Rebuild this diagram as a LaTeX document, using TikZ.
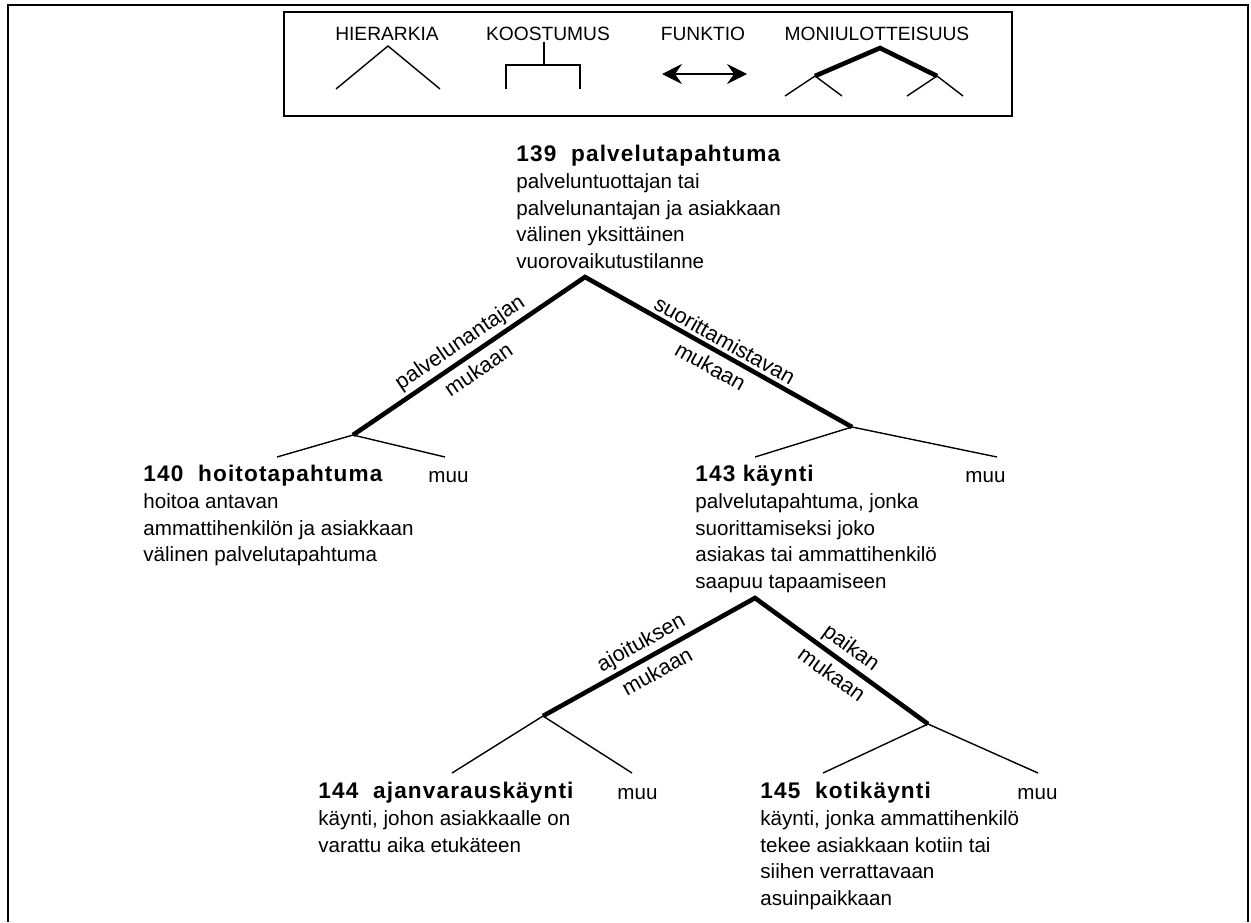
\documentclass[tikz,border=0pt]{standalone}
\usepackage{fontspec}
\setmainfont{Liberation Sans}
\newfontfamily\spacedfont[LetterSpace=5]{Liberation Sans}
\usepackage{tikz}
\usetikzlibrary{arrows.meta}

\tikzset{
  concept/.style={anchor=north west, inner sep=0pt, align=left, font=\fontsize{10.3}{13.35}\selectfont},
  other/.style={anchor=base west, inner sep=0pt, font=\fontsize{10.3}{13.35}\selectfont},
  legendlabel/.style={anchor=base, inner sep=0pt, font=\fontsize{9.6}{12}\selectfont},
  criterion/.style={line width=2.3pt},
  branch/.style={line width=0.7pt},
  edgelabel/.style={sloped, pos=0.5, inner sep=1.5pt, font=\fontsize{10.8}{13}\selectfont},
}
\newcommand{\term}[1]{{\spacedfont\bfseries\fontsize{11.3}{13.35}\selectfont #1}}

\begin{document}
\begin{tikzpicture}[x=0.5pt, y=-0.5pt]
\useasboundingbox (0,0) rectangle (1251,922);
% frame, open at the bottom
\draw[line width=1pt] (8,922) -- (8,5) -- (1248,5) -- (1248,922);

% legend
\draw[line width=0.8pt] (284,12) rectangle (1012,116);
\node[legendlabel] (hier) at (387,40) {HIERARKIA};
\node[legendlabel] (koost) at (548,40) {KOOSTUMUS};
\node[legendlabel] (funk) at (703,40) {FUNKTIO};
\node[legendlabel] (moni) at (877,40) {MONIULOTTEISUUS};
\draw[branch] (336,89) -- (388,46) -- (440,89);
\draw[branch] (544,42) -- (544,65);
\draw[branch] (506,89) -- (506,65) -- (580,65) -- (580,89);
\draw[branch, {Stealth[length=10pt, width=10pt, inset=3.5pt]}-{Stealth[length=10pt, width=10pt, inset=3.5pt]}] (662,74) -- (747,74);
\draw[criterion] (815,76) -- (880,48) -- (937,76);
\draw[branch] (785,96) -- (815,76) -- (842,96);
\draw[branch] (907,96) -- (937,76) -- (963,96);

% concepts
\node[concept] (n139) at (516,145) {\term{139~~palvelutapahtuma}\\palveluntuottajan tai\\palvelunantajan ja asiakkaan\\välinen yksittäinen\\vuorovaikutustilanne};
\node[concept] (n140) at (143,465) {\term{140~~hoitotapahtuma}\\hoitoa antavan\\ammattihenkilön ja asiakkaan\\välinen palvelutapahtuma};
\node[other] (muu140) at (428,482) {muu};
\node[concept] (n143) at (695,465) {\term{143 käynti}\\palvelutapahtuma, jonka\\suorittamiseksi joko\\asiakas tai ammattihenkilö\\saapuu tapaamiseen};
\node[other] (muu143) at (965,482) {muu};
\node[concept] (n144) at (318,782) {\term{144~~ajanvarauskäynti}\\käynti, johon asiakkaalle on\\varattu aika etukäteen};
\node[other] (muu144) at (617,799) {muu};
\node[concept] (n145) at (760,782) {\term{145~~kotikäynti}\\käynti, jonka ammattihenkilö\\tekee asiakkaan kotiin tai\\siihen verrattavaan\\asuinpaikkaan};
\node[other] (muu145) at (1017,799) {muu};

% tree points
\coordinate (a139) at (585,277);
\coordinate (j140) at (353,435);
\coordinate (j143) at (852,427);
\coordinate (l140) at (277,457);
\coordinate (r140) at (445,457);
\coordinate (l143) at (755,457);
\coordinate (r143) at (997,457);
\coordinate (a143) at (755,598);
\coordinate (j144) at (543,716);
\coordinate (j145) at (928,724);
\coordinate (l144) at (452,773);
\coordinate (r144) at (632,773);
\coordinate (l145) at (823,773);
\coordinate (r145) at (1038,773);

\draw[criterion] (j140) -- node[edgelabel, above] {palvelunantajan} node[edgelabel, below, inner sep=3pt] {mukaan} (a139)
  -- node[edgelabel, above] {suorittamistavan} node[edgelabel, below, inner sep=3pt] {mukaan} (j143);
\draw[branch] (l140) -- (j140) -- (r140);
\draw[branch] (l143) -- (j143) -- (r143);

\draw[criterion] (j144) -- node[edgelabel, above] {ajoituksen} node[edgelabel, below, inner sep=3pt] {mukaan} (a143)
  -- node[edgelabel, above] {paikan} node[edgelabel, below, inner sep=3pt] {mukaan} (j145);
\draw[branch] (l144) -- (j144) -- (r144);
\draw[branch] (l145) -- (j145) -- (r145);
\end{tikzpicture}
\end{document}
